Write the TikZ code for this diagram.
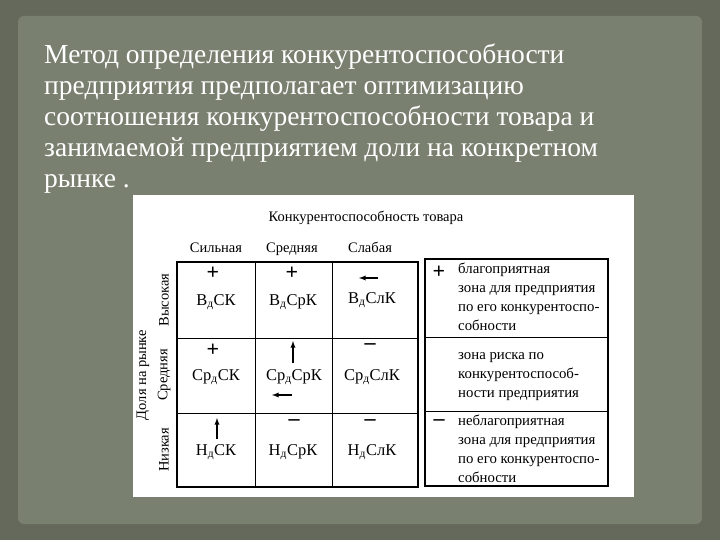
\documentclass[tikz,border=0pt]{standalone}
\usepackage{fontspec}
\setmainfont{Liberation Serif}
\begin{document}
\begin{tikzpicture}[x=1pt,y=-1pt,
  cell/.style={font=\fontsize{16.5}{18}\selectfont},
  hdr/.style={font=\fontsize{14.5}{16}\selectfont},
  chdr/.style={font=\fontsize{14.5}{16}\selectfont,anchor=base},
  leg/.style={font=\fontsize{14.8}{19}\selectfont,align=left,anchor=north west,inner sep=0pt},
  sg/.style={font=\bfseries\fontsize{22}{22}\selectfont},
  arr/.style={-latex,line width=1.3pt}]
\fill[fill={rgb,255:red,100;green,105;blue,92}] (0,0) rectangle (720,540);
\fill[fill={rgb,255:red,122;green,128;blue,112},rounded corners=6] (18,16) rectangle (702,524);
\useasboundingbox (0,0) rectangle (720,540);
\node[anchor=north west,text=white,align=left,inner sep=0pt,font=\fontsize{27.5}{31}\selectfont] (title) at (44,44)
 {Метод определения конкурентоспособности\\предприятия предполагает оптимизацию\\соотношения конкурентоспособности товара и\\занимаемой предприятием доли на конкретном\\рынке .};
\fill[white] (133,195) rectangle (634,497);
\draw[line width=1.2pt] (177,262) rectangle (418,487);
\draw[line width=1pt] (255,262) -- (255,487) (332,262) -- (332,487) (177,338) -- (418,338) (177,413) -- (418,413);
\draw[line width=1.2pt] (425,259) rectangle (608,486);
\draw[line width=1pt] (425,337) -- (608,337) (425,411) -- (608,411);
\node[hdr] (h) at (366,218) {Конкурентоспособность товара};
\node[chdr] (c1) at (216,252) {Сильная};
\node[chdr] (c2) at (292,252) {Средняя};
\node[chdr] (c3) at (370,252) {Слабая};
\node[hdr,rotate=90] (r1) at (164,300) {Высокая};
\node[hdr,rotate=90] (r2) at (164,375) {Средняя};
\node[hdr,rotate=90] (r3) at (164,450) {Низкая};
\node[hdr,rotate=90] (r0) at (143,375) {Доля на рынке};
\node[cell] (a11) at (216,302) {В\textsubscript{д}СК};
\node[cell] (a12) at (293,302) {В\textsubscript{д}СрК};
\node[cell] (a13) at (372,300) {В\textsubscript{д}СлК};
\node[cell] (a21) at (216,377) {Ср\textsubscript{д}СК};
\node[cell] (a22) at (294,377) {Ср\textsubscript{д}СрК};
\node[cell] (a23) at (372,377) {Ср\textsubscript{д}СлК};
\node[cell] (a31) at (216,452) {Н\textsubscript{д}СК};
\node[cell] (a32) at (293,452) {Н\textsubscript{д}СрК};
\node[cell] (a33) at (372,452) {Н\textsubscript{д}СлК};
\node[sg] (p11) at (213,273) {+};
\node[sg] (p12) at (292,273) {+};
\node[sg] (p21) at (213,350) {+};
\node[sg] (m23) at (370,347) {–};
\node[sg] (m32) at (294,423) {–};
\node[sg] (m33) at (370,423) {–};
\coordinate (e13) at (378,278); \coordinate (f13) at (359,278);
\draw[arr] (e13) -- (f13);
\coordinate (e22) at (293,363); \coordinate (f22) at (293,341);
\draw[arr] (e22) -- (f22);
\coordinate (g22) at (292,395); \coordinate (k22) at (272,395);
\draw[arr] (g22) -- (k22);
\coordinate (e31) at (217,439); \coordinate (f31) at (217,418);
\draw[arr] (e31) -- (f31);
\node[sg] (lp) at (439,272) {+};
\node[sg] (lm) at (439,423) {–};
\node[leg] (l1) at (458,263) {благоприятная\\зона для предприятия\\по его конкурентоспо-\\собности};
\node[leg] (l2) at (458,352) {зона риска по\\конкурентоспособ-\\ности предприятия};
\node[leg] (l3) at (458,415) {неблагоприятная\\зона для предприятия\\по его конкурентоспо-\\собности};
\end{tikzpicture}
\end{document}
